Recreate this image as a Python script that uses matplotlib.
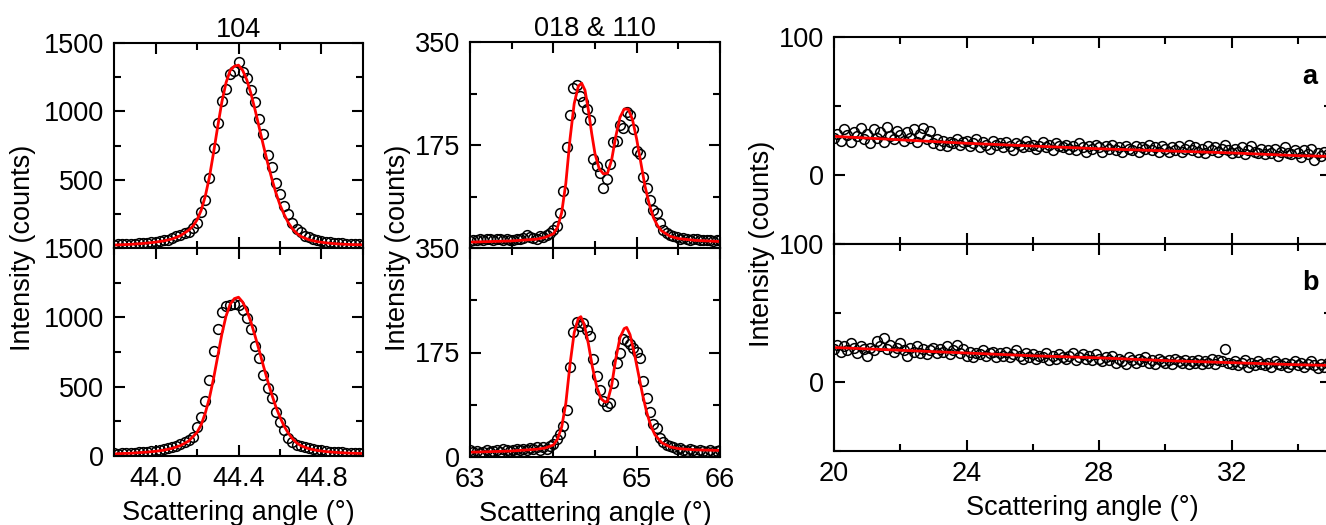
import numpy as np
import matplotlib
matplotlib.use("Agg")
import matplotlib.pyplot as plt
from matplotlib.ticker import MultipleLocator

plt.rcParams['font.family'] = ['Liberation Sans', 'DejaVu Sans']
FS = 19.5

# ---- 104 reflection (scan 43.8-45.0, step 0.02) ----
x104 = np.linspace(43.8, 45.0, 61)
y104_a = [25, 28, 26, 30, 32, 31, 35, 36, 40, 42,
          45, 52, 55, 62, 70, 85, 98, 108, 120, 148,
          185, 262, 350, 515, 730, 915, 1075, 1160, 1270, 1295,
          1360, 1290, 1245, 1155, 1070, 945, 835, 680, 590, 475,
          395, 305, 250, 185, 140, 115, 90, 78, 65, 58,
          50, 45, 42, 38, 36, 34, 30, 28, 27, 26,
          25]
y104_b = [20, 18, 25, 20, 22, 24, 28, 30, 32, 35,
          38, 42, 48, 55, 62, 72, 85, 100, 118, 140,
          210, 280, 395, 550, 760, 915, 1035, 1080, 1090, 1095,
          1090, 1055, 995, 915, 795, 705, 585, 490, 415, 320,
          245, 185, 130, 100, 80, 72, 62, 55, 48, 42,
          40, 35, 32, 30, 28, 26, 24, 22, 20, 20,
          20]
fit104_a_x = [43.80, 43.84, 43.88, 43.92, 43.96, 44.00, 44.04, 44.08, 44.12, 44.16,
              44.18, 44.20, 44.22, 44.24, 44.26, 44.28, 44.30, 44.32, 44.34, 44.36,
              44.38, 44.40, 44.42, 44.44, 44.46, 44.48, 44.50, 44.52, 44.54, 44.56,
              44.58, 44.60, 44.62, 44.64, 44.66, 44.68, 44.70, 44.74, 44.78, 44.82,
              44.86, 44.90, 44.95, 45.00]
fit104_a_y = [22, 24, 27, 31, 36, 43, 52, 66, 90, 130,
              160, 205, 275, 380, 520, 700, 890, 1070, 1210, 1300,
              1330, 1338, 1300, 1230, 1130, 1010, 880, 750, 625, 510,
              405, 315, 245, 185, 140, 108, 85, 60, 46, 38,
              32, 28, 25, 23]
fit104_b_x = [43.80, 43.84, 43.88, 43.92, 43.96, 44.00, 44.04, 44.08, 44.12, 44.16,
              44.20, 44.22, 44.24, 44.26, 44.28, 44.30, 44.32, 44.34, 44.36, 44.38,
              44.40, 44.42, 44.44, 44.46, 44.48, 44.50, 44.52, 44.54, 44.56, 44.58,
              44.60, 44.62, 44.64, 44.66, 44.68, 44.70, 44.74, 44.78, 44.82, 44.86,
              44.90, 44.95, 45.00]
fit104_b_y = [15, 18, 20, 24, 28, 34, 42, 55, 75, 108,
              170, 225, 310, 420, 560, 720, 880, 1010, 1095, 1135,
              1145, 1110, 1050, 965, 865, 760, 650, 545, 445, 355,
              280, 215, 165, 125, 95, 75, 52, 40, 32, 27,
              23, 20, 18]

# ---- 018 & 110 doublet (scan 63-66, step 0.04) ----
x018 = np.linspace(63.0, 66.0, 76)
y018_a = [12, 14, 13, 15, 14, 16, 15, 13, 16, 15,
          14, 16, 13, 14, 15, 16, 17, 22, 18, 17,
          16, 20, 18, 22, 25, 31, 37, 59, 96, 172,
          226, 272, 277, 258, 248, 236, 217, 151, 139, 127,
          102, 118, 143, 180, 182, 209, 204, 231, 226, 203,
          164, 160, 121, 102, 82, 65, 59, 43, 31, 26,
          22, 20, 18, 16, 17, 15, 14, 16, 15, 14,
          13, 14, 13, 12, 13, 13]
y018_b = [12, 8, 10, 7, 9, 11, 8, 10, 12, 9,
          13, 11, 10, 12, 14, 11, 13, 12, 15, 13,
          16, 12, 17, 14, 18, 22, 30, 38, 52, 79,
          151, 210, 226, 220, 225, 213, 202, 164, 135, 113,
          93, 86, 90, 124, 158, 175, 198, 195, 189, 183,
          176, 166, 127, 99, 75, 56, 48, 31, 25, 20,
          18, 16, 13, 15, 12, 10, 13, 11, 9, 12,
          10, 8, 11, 9, 10, 12]
fit018_a_x = [63.00, 63.50, 63.80, 63.90, 64.00, 64.05, 64.10, 64.15, 64.20, 64.25,
              64.30, 64.34, 64.38, 64.42, 64.46, 64.50, 64.55, 64.60, 64.65, 64.70,
              64.75, 64.80, 64.85, 64.90, 64.95, 65.00, 65.05, 65.10, 65.15, 65.20,
              65.25, 65.30, 65.40, 65.50, 65.70, 66.00]
fit018_a_y = [10, 12, 15, 18, 24, 35, 60, 110, 185, 245,
              275, 280, 268, 235, 195, 160, 135, 126, 127, 150,
              190, 222, 236, 236, 218, 185, 145, 105, 75, 52,
              38, 29, 20, 16, 13, 11]
fit018_b_x = [63.00, 63.50, 63.80, 63.90, 64.00, 64.05, 64.10, 64.15, 64.20, 64.25,
              64.30, 64.33, 64.37, 64.42, 64.47, 64.52, 64.57, 64.62, 64.65, 64.70,
              64.75, 64.80, 64.85, 64.88, 64.92, 64.97, 65.02, 65.07, 65.12, 65.17,
              65.22, 65.30, 65.40, 65.50, 65.70, 66.00]
fit018_b_y = [8, 10, 13, 15, 20, 30, 50, 90, 155, 208,
              232, 235, 222, 190, 150, 118, 98, 92, 93, 120,
              165, 200, 215, 217, 205, 175, 140, 105, 75, 52,
              37, 24, 17, 14, 12, 11]

# ---- low-angle background (scan 20-35, step 0.1) ----
xbg = np.linspace(20.0, 35.0, 151)
ybg_a = [27, 30, 25, 33, 29, 24, 31, 28, 34, 26,
         30, 23, 33, 27, 31, 24, 35, 28, 26, 32,
         29, 25, 31, 27, 33, 24, 30, 34, 26, 32,
         23, 26, 22, 25, 21, 24, 23, 26, 22, 24,
         25, 21, 23, 26, 20, 24, 22, 19, 25, 22,
         23, 20, 24, 21, 18, 23, 22, 20, 25, 21,
         22, 19, 21, 24, 20, 22, 18, 23, 21, 20,
         22, 19, 21, 18, 23, 20, 17, 21, 19, 22,
         20, 17, 21, 19, 22, 18, 20, 17, 21, 19,
         18, 21, 17, 20, 19, 22, 18, 20, 17, 21,
         19, 17, 20, 18, 21, 17, 19, 22, 18, 20,
         17, 19, 16, 21, 18, 20, 17, 19, 22, 18,
         16, 19, 17, 20, 15, 18, 21, 17, 16, 19,
         15, 18, 16, 19, 14, 17, 20, 16, 15, 18,
         16, 13, 18, 15, 19, 11, 16, 14, 17, 15,
         14]
ybg_b = [24, 27, 22, 26, 23, 28, 25, 21, 26, 24,
         19, 25, 23, 30, 26, 32, 24, 27, 22, 25,
         28, 23, 19, 25, 22, 26, 21, 24, 20, 23,
         25, 21, 24, 22, 26, 20, 23, 27, 21, 24,
         19, 22, 18, 21, 20, 23, 19, 21, 22, 18,
         21, 19, 22, 18, 20, 23, 19, 17, 21, 18,
         20, 17, 19, 18, 21, 16, 19, 17, 20, 18,
         17, 19, 21, 16, 18, 20, 17, 19, 16, 20,
         17, 15, 18, 16, 19, 14, 17, 15, 13, 18,
         16, 14, 17, 15, 18, 14, 16, 13, 17, 15,
         14, 16, 13, 17, 15, 14, 16, 13, 15, 14,
         16, 13, 15, 14, 17, 13, 16, 15, 24, 14,
         13, 15, 12, 14, 16, 11, 14, 12, 15, 13,
         12, 14, 11, 15, 13, 12, 14, 11, 13, 15,
         12, 14, 11, 13, 15, 12, 10, 13, 11, 14,
         12]
fitbg_x = [20, 22, 24, 26, 28, 30, 32, 34, 35]
fitbg_a_y = [28, 25.5, 23, 21, 19, 17.5, 16, 14, 13.5]
fitbg_b_y = [25, 23, 21, 19, 17.5, 15.5, 14, 12.5, 12]

W, H = 1326, 525
fig = plt.figure(figsize=(W / 100, H / 100), dpi=100)


def add_ax(x0, x1, y0, y1):
    return fig.add_axes([x0 / W, 1 - y1 / H, (x1 - x0) / W, (y1 - y0) / H])


def style(ax):
    for s in ax.spines.values():
        s.set_linewidth(1.5)
    ax.tick_params(which='both', direction='in', top=True, right=True,
                   labelsize=FS, width=1.5, pad=7)
    ax.tick_params(which='major', length=8)
    ax.tick_params(which='minor', length=5)


def draw(ax, x, y, fx, fy):
    ax.plot(x, y, 'o', mfc='none', mec='black', ms=7, mew=1.1)
    ax.plot(fx, fy, '-', color='red', lw=2)


ax1a = add_ax(114, 363, 43, 248)
ax1b = add_ax(114, 363, 248, 456)
ax2a = add_ax(470, 720, 42, 248)
ax2b = add_ax(470, 720, 248, 457)
ax3a = add_ax(834, 1331, 37, 244)
ax3b = add_ax(834, 1331, 244, 451)

draw(ax1a, x104, y104_a, fit104_a_x, fit104_a_y)
draw(ax1b, x104, y104_b, fit104_b_x, fit104_b_y)
draw(ax2a, x018, y018_a, fit018_a_x, fit018_a_y)
draw(ax2b, x018, y018_b, fit018_b_x, fit018_b_y)
draw(ax3a, xbg, ybg_a, fitbg_x, fitbg_a_y)
draw(ax3b, xbg, ybg_b, fitbg_x, fitbg_b_y)

for ax in (ax1a, ax1b):
    style(ax)
    ax.set_xlim(43.8, 45.0)
    ax.set_ylim(0, 1500)
    ax.xaxis.set_major_locator(MultipleLocator(0.4))
    ax.xaxis.set_minor_locator(MultipleLocator(0.2))
    ax.yaxis.set_minor_locator(MultipleLocator(250))
ax1a.set_xticks([44.0, 44.4, 44.8])
ax1b.set_xticks([44.0, 44.4, 44.8], ['44.0', '44.4', '44.8'])
ax1a.set_yticks([0, 500, 1000, 1500], ['', '500', '1000', '1500'])
ax1b.set_yticks([0, 500, 1000, 1500], ['0', '500', '1000', '1500'])

for ax in (ax2a, ax2b):
    style(ax)
    ax.set_xlim(63, 66)
    ax.set_ylim(0, 350)
    ax.xaxis.set_major_locator(MultipleLocator(1))
    ax.xaxis.set_minor_locator(MultipleLocator(0.5))
    ax.yaxis.set_minor_locator(MultipleLocator(87.5))
ax2a.set_yticks([0, 175, 350], ['', '175', '350'])
ax2b.set_yticks([0, 175, 350], ['0', '175', '350'])

for ax in (ax3a, ax3b):
    style(ax)
    ax.set_xlim(20, 35)
    ax.set_ylim(-50, 100)
    ax.xaxis.set_major_locator(MultipleLocator(4))
    ax.xaxis.set_minor_locator(MultipleLocator(2))
    ax.set_yticks([0, 100], ['0', '100'])
    ax.yaxis.set_minor_locator(MultipleLocator(50))

for ax in (ax1a, ax2a, ax3a):
    ax.tick_params(labelbottom=False)

ax1a.set_title('104', fontsize=FS, pad=3)
ax2a.set_title('018 & 110', fontsize=FS, pad=3)

for ax in (ax1b, ax2b, ax3b):
    ax.set_xlabel('Scattering angle (°)', fontsize=FS, labelpad=6)

for xp, yp in ((23, 248), (398, 248), (762, 244)):
    fig.text(xp / W, 1 - yp / H, 'Intensity (counts)', rotation=90,
             ha='center', va='center', fontsize=FS)

fig.text(1310 / W, 1 - 77 / H, 'a', fontsize=FS, fontweight='bold',
         ha='center', va='center')
fig.text(1310 / W, 1 - 283 / H, 'b', fontsize=FS, fontweight='bold',
         ha='center', va='center')

fig.savefig('out.png', dpi=100)
